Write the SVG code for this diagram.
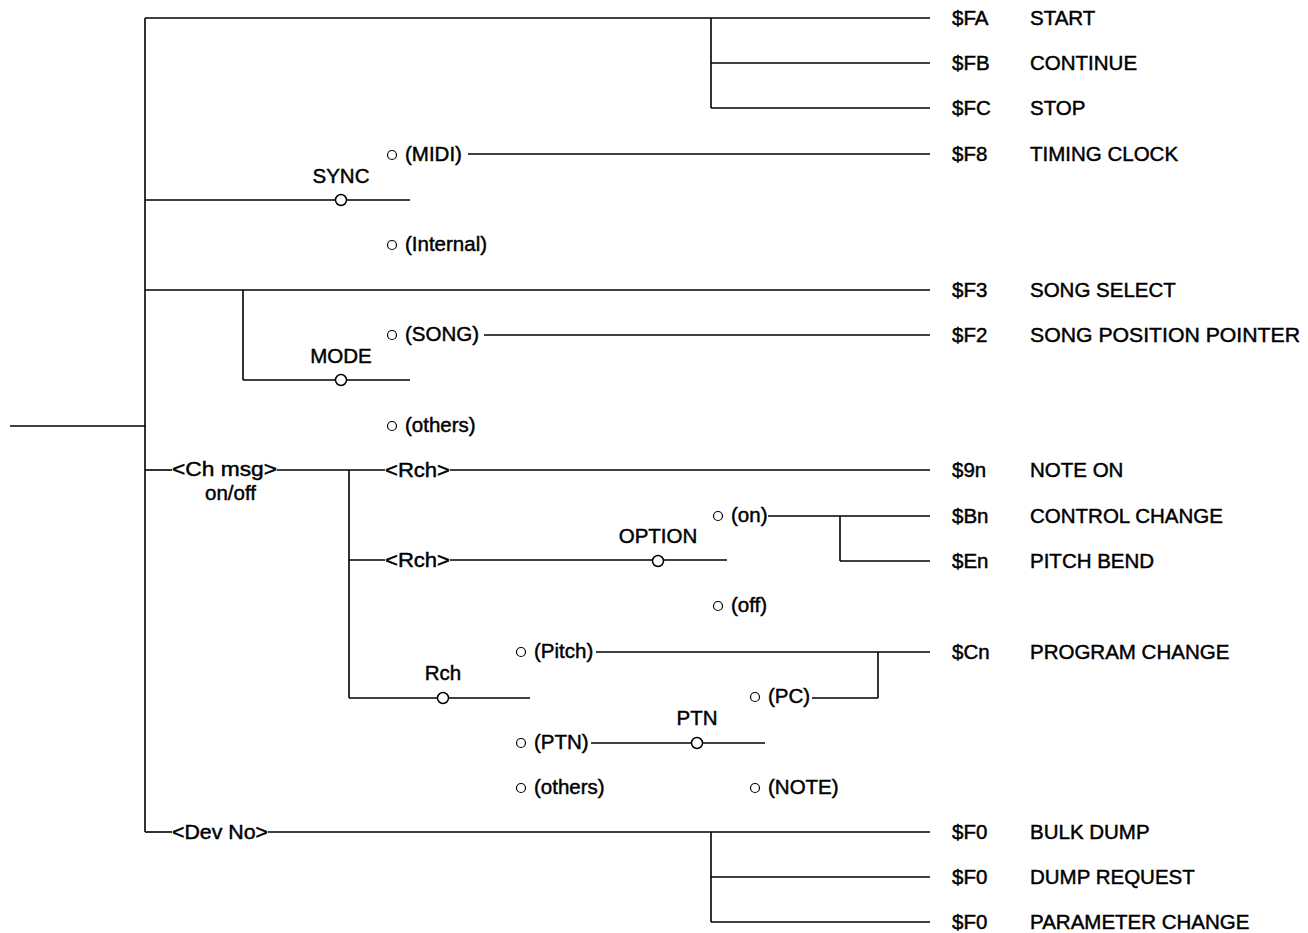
<svg xmlns="http://www.w3.org/2000/svg" width="1308" height="933" viewBox="0 0 1308 933">
<style>
text{font-family:"Liberation Sans",Arial,sans-serif;font-size:20.5px;fill:#000;stroke:#000;stroke-width:0.45}
.c{text-anchor:middle}
.r{font-size:21px}
line,polyline{stroke:#000;stroke-width:1.6;fill:none}
.sw{fill:#fff;stroke:#000;stroke-width:1.5}
.t{fill:#fff;stroke:#000;stroke-width:1.2}
</style>
<rect width="1308" height="933" fill="#fff"/>
<g id="connectors">
<line x1="10" y1="426" x2="145" y2="426"/>
<line x1="145" y1="18" x2="145" y2="832"/>
<line x1="145" y1="18" x2="930" y2="18"/>
<line x1="711" y1="18" x2="711" y2="108"/>
<line x1="711" y1="63" x2="930" y2="63"/>
<line x1="711" y1="108" x2="930" y2="108"/>
<line x1="468" y1="154" x2="930" y2="154"/>
<line x1="145" y1="200" x2="410" y2="200"/>
<line x1="145" y1="290" x2="930" y2="290"/>
<line x1="243" y1="290" x2="243" y2="380"/>
<line x1="243" y1="380" x2="410" y2="380"/>
<line x1="484" y1="335" x2="930" y2="335"/>
<line x1="145" y1="470" x2="172" y2="470"/>
<line x1="277" y1="470" x2="385" y2="470"/>
<line x1="450" y1="470" x2="930" y2="470"/>
<line x1="349" y1="470" x2="349" y2="698"/>
<line x1="349" y1="560" x2="385" y2="560"/>
<line x1="450" y1="560" x2="727" y2="560"/>
<line x1="768" y1="516" x2="930" y2="516"/>
<line x1="840" y1="516" x2="840" y2="561"/>
<line x1="840" y1="561" x2="930" y2="561"/>
<line x1="349" y1="698" x2="530" y2="698"/>
<line x1="596" y1="652" x2="930" y2="652"/>
<line x1="878" y1="652" x2="878" y2="698"/>
<line x1="812" y1="698" x2="878" y2="698"/>
<line x1="591" y1="743" x2="765" y2="743"/>
<line x1="145" y1="832" x2="172" y2="832"/>
<line x1="268" y1="832" x2="930" y2="832"/>
<line x1="711" y1="832" x2="711" y2="922"/>
<line x1="711" y1="877" x2="930" y2="877"/>
<line x1="711" y1="922" x2="930" y2="922"/>
</g>
<g id="out-fa" class="r"><text x="952" y="25">$FA</text><text x="1030" y="25">START</text></g>
<g id="out-fb" class="r"><text x="952" y="70">$FB</text><text x="1030" y="70">CONTINUE</text></g>
<g id="out-fc" class="r"><text x="952" y="115">$FC</text><text x="1030" y="115">STOP</text></g>
<g id="out-f8" class="r"><text x="952" y="161">$F8</text><text x="1030" y="161">TIMING CLOCK</text></g>
<g id="out-f3" class="r"><text x="952" y="297">$F3</text><text x="1030" y="297">SONG SELECT</text></g>
<g id="out-f2" class="r"><text x="952" y="342">$F2</text><text x="1030" y="342" textLength="270" lengthAdjust="spacingAndGlyphs">SONG POSITION POINTER</text></g>
<g id="out-9n" class="r"><text x="952" y="477">$9n</text><text x="1030" y="477">NOTE ON</text></g>
<g id="out-bn" class="r"><text x="952" y="523">$Bn</text><text x="1030" y="523">CONTROL CHANGE</text></g>
<g id="out-en" class="r"><text x="952" y="568">$En</text><text x="1030" y="568">PITCH BEND</text></g>
<g id="out-cn" class="r"><text x="952" y="659">$Cn</text><text x="1030" y="659">PROGRAM CHANGE</text></g>
<g id="out-f0a" class="r"><text x="952" y="839">$F0</text><text x="1030" y="839">BULK DUMP</text></g>
<g id="out-f0b" class="r"><text x="952" y="884">$F0</text><text x="1030" y="884">DUMP REQUEST</text></g>
<g id="out-f0c" class="r"><text x="952" y="929">$F0</text><text x="1030" y="929">PARAMETER CHANGE</text></g>
<g id="sw-sync">
<text class="c" x="341" y="183">SYNC</text>
<circle class="sw" cx="341" cy="200" r="5.5"/>
<circle class="t" cx="392" cy="155" r="4.5"/><text x="405" y="161">(MIDI)</text>
<circle class="t" cx="392" cy="245" r="4.5"/><text x="405" y="251">(Internal)</text>
</g>
<g id="sw-mode">
<text class="c" x="341" y="363">MODE</text>
<circle class="sw" cx="341" cy="380" r="5.5"/>
<circle class="t" cx="392" cy="335" r="4.5"/><text x="405" y="341">(SONG)</text>
<circle class="t" cx="392" cy="426" r="4.5"/><text x="405" y="432">(others)</text>
</g>
<g id="chmsg"><text x="172" y="476" textLength="105" lengthAdjust="spacingAndGlyphs">&lt;Ch msg&gt;</text><text x="205" y="500" font-size="19.5">on/off</text></g>
<g id="rch1"><text x="385" y="477" textLength="65" lengthAdjust="spacingAndGlyphs">&lt;Rch&gt;</text></g>
<g id="rch2"><text x="385" y="567" textLength="65" lengthAdjust="spacingAndGlyphs">&lt;Rch&gt;</text></g>
<g id="sw-option">
<text class="c" x="658" y="543">OPTION</text>
<circle class="sw" cx="658" cy="561" r="5.5"/>
<circle class="t" cx="718" cy="516" r="4.5"/><text x="731" y="522">(on)</text>
<circle class="t" cx="718" cy="606" r="4.5"/><text x="731" y="612">(off)</text>
</g>
<g id="sw-rch">
<text class="c" x="443" y="680">Rch</text>
<circle class="sw" cx="443" cy="698" r="5.5"/>
<circle class="t" cx="521" cy="652" r="4.5"/><text x="534" y="658">(Pitch)</text>
<circle class="t" cx="521" cy="743" r="4.5"/><text x="534" y="749">(PTN)</text>
<circle class="t" cx="521" cy="788" r="4.5"/><text x="534" y="794">(others)</text>
</g>
<g id="sw-ptn">
<text class="c" x="697" y="725">PTN</text>
<circle class="sw" cx="697" cy="743" r="5.5"/>
<circle class="t" cx="755" cy="697" r="4.5"/><text x="768" y="703">(PC)</text>
<circle class="t" cx="755" cy="788" r="4.5"/><text x="768" y="794">(NOTE)</text>
</g>
<g id="devno"><text x="172" y="839" textLength="96" lengthAdjust="spacingAndGlyphs">&lt;Dev No&gt;</text></g>
</svg>
